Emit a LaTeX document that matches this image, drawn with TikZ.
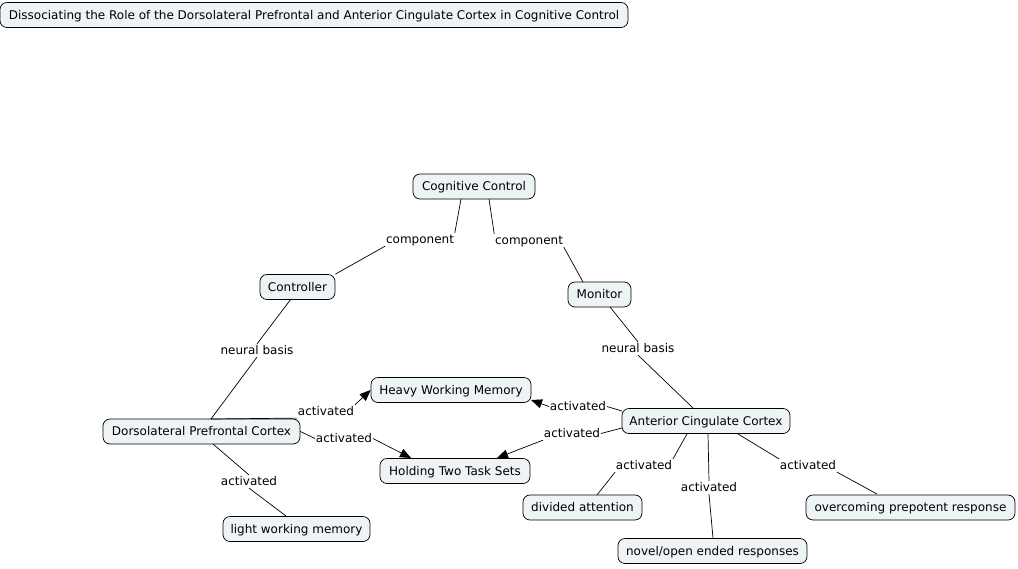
\documentclass[tikz,border=0pt]{standalone}
\usepackage{fontspec}
\setmainfont{DejaVu Sans}
\usetikzlibrary{arrows.meta}
\definecolor{boxfill}{HTML}{EEF3F5}
\begin{document}
\begin{tikzpicture}[x=1pt,y=-1pt,line width=0.7pt,
	concept/.style={draw,rounded corners=7pt,fill=boxfill,inner sep=0pt,minimum height=25pt,text height=10pt,text depth=1.5pt,font=\fontsize{12}{14}\selectfont},
	link/.style={inner sep=0.5pt,text height=9.5pt,text depth=2pt,font=\fontsize{12}{14}\selectfont},
	tip/.style={-{Triangle[length=11pt,width=9pt]}}]
	\useasboundingbox (0,0) rectangle (1018,568);
	% concepts
	\node[concept,minimum width=628pt] (title) at (314,15) {Dissociating the Role of the Dorsolateral Prefrontal and Anterior Cingulate Cortex in Cognitive Control};
	\node[concept,minimum width=122pt] (cc) at (474,186.5) {Cognitive Control};
	\node[concept,minimum width=75pt] (ctrl) at (297.5,287) {Controller};
	\node[concept,minimum width=63pt] (mon) at (599.5,294.5) {Monitor};
	\node[concept,minimum width=197pt] (dlpfc) at (201.5,431.5) {Dorsolateral Prefrontal Cortex};
	\node[concept,minimum width=160pt] (hwm) at (451,390) {Heavy Working Memory};
	\node[concept,minimum width=150pt] (htts) at (455,471) {Holding Two Task Sets};
	\node[concept,minimum width=168pt] (acc) at (706,421) {Anterior Cingulate Cortex};
	\node[concept,minimum width=147pt] (lwm) at (296.5,529) {light working memory};
	\node[concept,minimum width=119pt] (da) at (582.5,507.5) {divided attention};
	\node[concept,minimum width=189pt] (novel) at (712.5,551) {novel/open ended responses};
	\node[concept,minimum width=209pt] (over) at (910.5,507.5) {overcoming prepotent response};
	% linking phrases
	\node[link] (l1) at (420,239.5) {component};
	\node[link] (l2) at (529,240.5) {component};
	\node[link] (l3) at (257,350.5) {neural basis};
	\node[link] (l4) at (638,348.5) {neural basis};
	\node[link] (l5) at (326,411.5) {activated};
	\node[link] (l6) at (344,438.5) {activated};
	\node[link] (l7) at (249,481.5) {activated};
	\node[link] (l8) at (578,406.5) {activated};
	\node[link] (l9) at (572,433.5) {activated};
	\node[link] (l10) at (644,465.5) {activated};
	\node[link] (l11) at (709,487.5) {activated};
	\node[link] (l12) at (808,465.5) {activated};
	% connectors
	\draw (461,199) -- (l1.north east);
	\draw (l1.south west) -- (ctrl.north east);
	\draw (489,199) -- (l2.north west);
	\draw (l2.south east) -- (583,282);
	\draw (291,299) -- (l3.north);
	\draw (l3.south) -- (211,419);
	\draw (610,307) -- (l4.north);
	\draw (l4.south) -- (693,408);
	\draw (211,419) -- (l5.south west);
	\draw[tip] (l5.north east) -- (hwm.west);
	\draw (dlpfc.east) -- (l6.west);
	\draw[tip] (l6.east) -- (411,458);
	\draw (213,444) -- (l7.north);
	\draw (l7.south) -- (286,516);
	\draw (622,411) -- (l8.east);
	\draw[tip] (l8.west) -- (531,400);
	\draw (622,428) -- (l9.east);
	\draw[tip] (l9.south west) -- (497,458);
	\draw (687,434) -- (l10.north east);
	\draw (l10.south west) -- (597,495);
	\draw (708,434) -- (l11.north);
	\draw (l11.south) -- (713,538);
	\draw (738,434) -- (l12.north west);
	\draw (l12.south east) -- (877,494);
\end{tikzpicture}
\end{document}
